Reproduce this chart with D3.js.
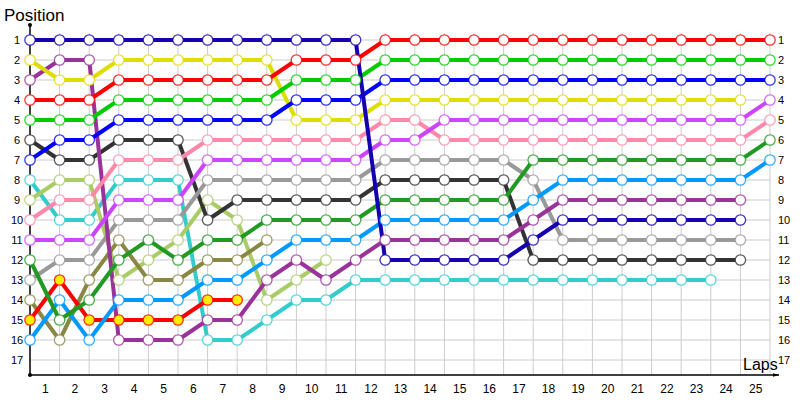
<!DOCTYPE html>
<html>
<head>
<meta charset="utf-8">
<script src="https://cdn.jsdelivr.net/npm/d3@7"></script>
<style>
  body { margin: 0; background: #fff; }
  svg { font-family: Tahoma, "Liberation Sans", Arial, sans-serif; }
  .tick text { fill: #000; }
</style>
</head>
<body>
<div id="chart"></div>
<script>
// lap-by-lap positions (lap 0 = grid), null = not running

var lapLabels = d3.range(1, 26);
var posLabels = d3.range(1, 18);

var pDarkBlue  = [1,1,1,1,1,1,1,1,1,1,1,1,12,12,12,12,12,11,10,10,10,10,10,10,10,null];
var pRed       = [4,4,4,3,3,3,3,3,3,2,2,2,1,1,1,1,1,1,1,1,1,1,1,1,1,1];
var pGreen     = [5,5,5,4,4,4,4,4,4,3,3,3,2,2,2,2,2,2,2,2,2,2,2,2,2,2];
var pBlue      = [7,6,6,5,5,5,5,5,5,4,4,4,3,3,3,3,3,3,3,3,3,3,3,3,3,3];
var pYellow    = [2,3,3,2,2,2,2,2,2,5,5,5,4,4,4,4,4,4,4,4,4,4,4,4,4,null];
var pPurple    = [3,2,2,16,16,16,15,15,13,12,13,12,11,11,11,11,11,10,9,9,9,9,9,9,9,null];
var pBlack     = [6,7,7,6,6,6,10,9,9,9,9,9,8,8,8,8,8,12,12,12,12,12,12,12,12,null];
var pPink      = [10,9,9,7,7,7,6,6,6,6,6,6,5,5,6,6,6,6,6,6,6,6,6,6,6,5];
var pViolet    = [11,11,11,9,9,9,7,7,7,7,7,7,6,6,5,5,5,5,5,5,5,5,5,5,5,4];
var pGray      = [13,12,12,10,10,10,8,8,8,8,8,8,7,7,7,7,7,8,11,11,11,11,11,11,11,null];
var pDarkGreen = [12,15,14,12,11,12,11,11,10,10,10,10,9,9,9,9,9,7,7,7,7,7,7,7,7,6];
var pLightBlue = [16,14,16,14,14,14,13,13,12,11,11,11,10,10,10,10,10,9,8,8,8,8,8,8,8,7];
var pCyan      = [8,10,10,8,8,8,16,16,15,14,14,13,13,13,13,13,13,13,13,13,13,13,13,13,null,null];
var pLimeGreen = [9,8,8,13,12,11,9,10,14,13,12];
var pOlive     = [14,16,13,11,13,13,12,12,11];
var pRedYellow = [15,13,15,15,15,15,14,14];

var drivers = [
  { pos: pCyan,      color: "#33cccc", fill: "#fff" },
  { pos: pLimeGreen, color: "#aacc66", fill: "#fff" },
  { pos: pOlive,     color: "#888844", fill: "#fff" },
  { pos: pRedYellow, color: "#ff0000", fill: "#ffee00" },
  { pos: pBlack,     color: "#333333", fill: "#fff" },
  { pos: pGray,      color: "#999999", fill: "#fff" },
  { pos: pPurple,    color: "#993399", fill: "#fff" },
  { pos: pYellow,    color: "#dddd00", fill: "#fff" },
  { pos: pLightBlue, color: "#0099ff", fill: "#fff" },
  { pos: pDarkGreen, color: "#229922", fill: "#fff" },
  { pos: pPink,      color: "#ff88aa", fill: "#fff" },
  { pos: pViolet,    color: "#cc44ff", fill: "#fff" },
  { pos: pBlue,      color: "#0000ff", fill: "#fff" },
  { pos: pGreen,     color: "#00cc00", fill: "#fff" },
  { pos: pRed,       color: "#ff0000", fill: "#fff" },
  { pos: pDarkBlue,  color: "#1400b0", fill: "#fff" }
];

var width = 800;
var height = 400;

var svg = d3.select("#chart")
    .append("svg")
    .attr("width", width)
    .attr("height", height);

var x = d3.scaleLinear().domain([0, 25]).range([30, 770]);
var y = d3.scaleLinear().domain([1, 17]).range([40, 360]);

var gridTop = 33;
var axisY = 375;

// grid
var grid = svg.append("g").attr("class", "grid");
grid.selectAll("line.v")
    .data(d3.range(1, 26))
    .enter().append("line")
    .attr("x1", d => x(d)).attr("x2", d => x(d))
    .attr("y1", gridTop).attr("y2", axisY)
    .attr("stroke", "#cccccc");
grid.selectAll("line.h")
    .data(posLabels)
    .enter().append("line")
    .attr("x1", x(0)).attr("x2", x(25))
    .attr("y1", d => y(d)).attr("y2", d => y(d))
    .attr("stroke", "#cccccc");

// axes labels via d3 axes
var leftAxis = d3.axisLeft(y).tickValues(posLabels).tickSize(0).tickPadding(8);
svg.append("g")
    .attr("transform", "translate(" + x(0) + ",0)")
    .call(leftAxis)
    .call(g => g.select(".domain").remove())
    .selectAll("text").attr("font-size", 11).attr("text-anchor", "middle").attr("dx", -5);

var rightAxis = d3.axisRight(y).tickValues(posLabels).tickSize(0).tickPadding(8);
svg.append("g")
    .attr("transform", "translate(" + x(25) + ",0)")
    .call(rightAxis)
    .call(g => g.select(".domain").remove())
    .selectAll("text").attr("font-size", 11);

var bottomAxis = d3.axisBottom(x)
    .tickValues(lapLabels.map(d => d - 0.5))
    .tickFormat(d => d + 0.5)
    .tickSize(0).tickPadding(9);
svg.append("g")
    .attr("transform", "translate(0," + axisY + ")")
    .call(bottomAxis)
    .call(g => g.select(".domain").remove())
    .selectAll("text").attr("font-size", 12);

// axis lines
svg.append("defs").append("marker")
    .attr("id", "arrow")
    .attr("viewBox", "0 0 10 10")
    .attr("refX", 10).attr("refY", 5)
    .attr("markerWidth", 14).attr("markerHeight", 6)
    .attr("markerUnits", "userSpaceOnUse")
    .attr("orient", "auto")
    .append("path").attr("d", "M0,2 L10,5 L0,8 Z").attr("fill", "#000");

svg.append("line")
    .attr("x1", x(0)).attr("x2", x(0))
    .attr("y1", 25).attr("y2", axisY)
    .attr("stroke", "#000").attr("stroke-width", 1.5);
svg.append("line")
    .attr("x1", x(0)).attr("x2", 779)
    .attr("y1", axisY).attr("y2", axisY)
    .attr("stroke", "#000").attr("stroke-width", 1.5)
    .attr("marker-end", "url(#arrow)");
svg.append("circle").attr("cx", x(0)).attr("cy", 25).attr("r", 2).attr("fill", "#000");
svg.append("circle").attr("cx", x(0)).attr("cy", axisY).attr("r", 2).attr("fill", "#000");

svg.append("text")
    .attr("x", 4).attr("y", 21)
    .attr("font-size", 17)
    .text("Position");
svg.append("text")
    .attr("x", 743).attr("y", 370)
    .attr("font-size", 16)
    .text("Laps");

// lines
var line = d3.line()
    .defined(d => d != null)
    .x((d, i) => x(i))
    .y(d => y(d));

var series = svg.append("g").attr("class", "series");
drivers.forEach(function(dr) {
    series.append("path")
        .datum(dr.pos)
        .attr("fill", "none")
        .attr("stroke", dr.color)
        .attr("stroke-width", 4)
        .attr("stroke-linejoin", "round")
        .attr("d", line);
});
drivers.forEach(function(dr) {
    var pts = dr.pos.map((p, i) => ({ lap: i, p: p })).filter(d => d.p != null);
    series.append("g").selectAll("circle")
        .data(pts)
        .enter().append("circle")
        .attr("cx", d => x(d.lap))
        .attr("cy", d => y(d.p))
        .attr("r", 5.2)
        .attr("fill", dr.fill)
        .attr("stroke", dr.color)
        .attr("stroke-opacity", 0.8)
        .attr("stroke-width", 1.3);
});
</script>
</body>
</html>
